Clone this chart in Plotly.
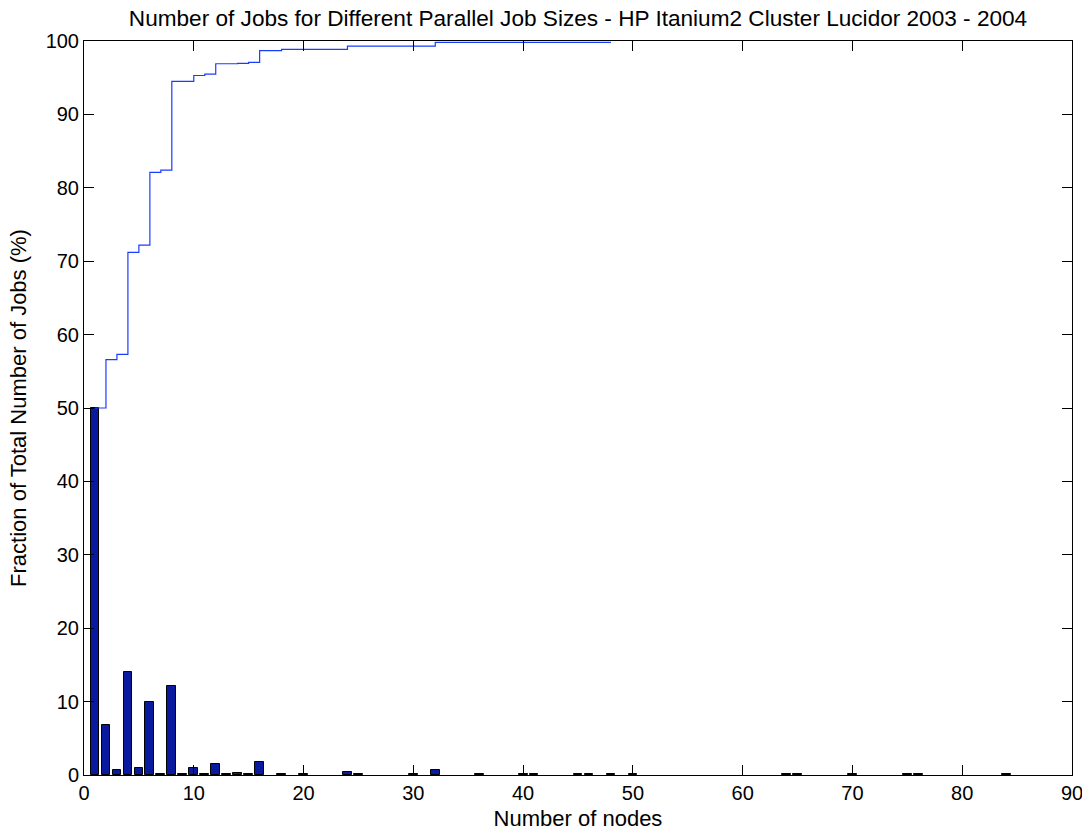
import plotly.graph_objects as go

# Histogram of job sizes (nodes) -> percentage of jobs
node_sizes = [1, 2, 3, 4, 5, 6, 7, 8, 9, 10, 11, 12, 13, 14, 15, 16, 18, 20,
              24, 25, 30, 32, 36, 40, 41, 45, 46, 48, 50, 64, 65, 70, 75, 76, 84]
job_pct = [50.0, 6.8, 0.68, 14.0, 0.95, 9.9, 0.2, 12.08, 0.12, 0.9, 0.12, 1.5, 0.12,
           0.27, 0.12, 1.73, 0.12, 0.12, 0.4, 0.12, 0.12, 0.65, 0.12, 0.12, 0.12,
           0.12, 0.12, 0.12, 0.12, 0.12, 0.12, 0.12, 0.12, 0.12, 0.12]

# Cumulative fraction (stairs)
cdf_x = [1, 2, 3, 4, 5, 6, 7, 8, 10, 11, 12, 14, 15, 16, 18, 24, 32, 48]
cdf_y = [50.0, 56.6, 57.3, 71.2, 72.2, 82.1, 82.4, 94.5, 95.3, 95.5, 96.9, 96.95,
         97.1, 98.7, 98.85, 99.3, 99.8, 99.8]

x_ticks = [0, 10, 20, 30, 40, 50, 60, 70, 80, 90]
y_ticks = [0, 10, 20, 30, 40, 50, 60, 70, 80, 90, 100]

FONT = "Liberation Sans, Arial, sans-serif"

fig = go.Figure()
fig.add_trace(go.Bar(
    x=node_sizes, y=job_pct, width=0.8,
    marker=dict(color="#0a1a9e", line=dict(color="black", width=1)),
    showlegend=False,
))
fig.add_trace(go.Scatter(
    x=cdf_x, y=cdf_y, mode="lines", line=dict(color="#1a3cff", width=1.2, shape="hv"),
    showlegend=False,
))

axis_common = dict(
    showline=True, linecolor="black", linewidth=1, mirror="ticks",
    ticks="inside", ticklen=10, tickcolor="black", tickwidth=1,
    showgrid=False, zeroline=False, automargin=False,
    ticklabeloverflow="allow",
    tickfont=dict(family=FONT, size=20, color="black"),
)

fig.update_layout(
    width=1082, height=832,
    margin=dict(l=84, r=10, t=41, b=57),
    plot_bgcolor="white", paper_bgcolor="white",
    title=dict(
        text="Number of Jobs for Different Parallel Job Sizes - HP Itanium2 Cluster Lucidor 2003 - 2004",
        xref="paper", x=0.5, xanchor="center", y=0.978, yanchor="middle",
        font=dict(family=FONT, size=22.6, color="black"),
    ),
    xaxis=dict(range=[0, 90], tickvals=x_ticks,
               title=dict(text="Number of nodes", standoff=7,
                          font=dict(family=FONT, size=22, color="black")),
               **axis_common),
    yaxis=dict(range=[0, 100], tickvals=y_ticks,
               title=dict(text="Fraction of Total Number of Jobs (%)", standoff=12,
                          font=dict(family=FONT, size=22, color="black")),
               **axis_common),
    bargap=0,
)

fig.write_html("out.html")
